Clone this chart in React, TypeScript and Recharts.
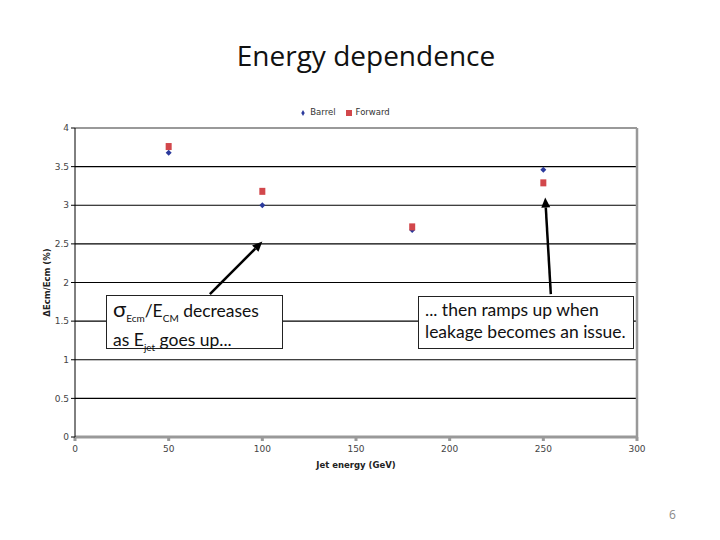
import React from "react"
import { ScatterChart, Scatter, XAxis, YAxis, CartesianGrid, Legend, ReferenceLine } from "recharts"

const barrelEnergy = [50, 100, 180, 250]
const barrelRes = [3.68, 3.0, 2.68, 3.46]
const forwardEnergy = [50, 100, 180, 250]
const forwardRes = [3.76, 3.18, 2.72, 3.29]
const xTicks = [0, 50, 100, 150, 200, 250, 300]
const yTicks = [0, 0.5, 1, 1.5, 2, 2.5, 3, 3.5, 4]

const barrel = barrelEnergy.map((x, i) => ({ x, y: barrelRes[i] }))
const forward = forwardEnergy.map((x, i) => ({ x, y: forwardRes[i] }))

const Diamond = (p: any) => (
  <polygon
    points={`${p.cx},${p.cy - 3} ${p.cx + 3},${p.cy} ${p.cx},${p.cy + 3} ${p.cx - 3},${p.cy}`}
    fill="#2b3a9c"
  />
)
const Square = (p: any) => <rect x={p.cx - 3} y={p.cy - 3.5} width={6} height={7} fill="#d2474b" />

const Arrow = (p: any) => {
  const { x1, y1, x2, y2 } = p
  const a = Math.atan2(y2 - y1, x2 - x1)
  const L = 10
  const w = 4.5
  const bx = x2 - L * Math.cos(a)
  const by = y2 - L * Math.sin(a)
  const px = -Math.sin(a) * w
  const py = Math.cos(a) * w
  return (
    <g>
      <line x1={x1} y1={y1} x2={bx} y2={by} stroke="#000" strokeWidth={2.5} />
      <polygon points={`${x2},${y2} ${bx + px},${by + py} ${bx - px},${by - py}`} fill="#000" />
    </g>
  )
}

const boxStyle: React.CSSProperties = {
  position: "absolute",
  border: "1px solid #222",
  background: "#fff",
  fontFamily: "Lato, 'Open Sans', sans-serif",
  fontSize: 17.5,
  lineHeight: "22px",
  color: "#111",
  padding: "2px 6px",
  boxSizing: "border-box",
}

export default function App() {
  return (
    <div style={{ position: "absolute", left: 0, top: 0, width: 720, height: 540, background: "#fff" }}>
      <div
        style={{
          position: "absolute",
          top: 36,
          width: 720,
          textAlign: "center",
          fontFamily: "'Open Sans', sans-serif",
          fontSize: 28,
          color: "#111",
          left: 6,
        }}
      >
        Energy dependence
      </div>
      <ScatterChart width={720} height={540} margin={{ top: 128, right: 83, bottom: 73, left: 35 }}>
        <CartesianGrid vertical={false} stroke="#000" strokeWidth={1.2} />
        <XAxis
          type="number"
          dataKey="x"
          domain={[0, 300]}
          ticks={xTicks}
          stroke="#999"
          strokeWidth={3}
          tickSize={4}
          tickMargin={5}
          tick={{ fontSize: 9, fill: "#444", fontFamily: "DejaVu Sans" }}
          height={30}
          label={{ value: "Jet energy (GeV)", position: "insideBottom", offset: -1, fontSize: 8.5, fontWeight: "bold", fill: "#222", fontFamily: "DejaVu Sans" }}
        />
        <YAxis
          type="number"
          dataKey="y"
          domain={[0, 4]}
          ticks={yTicks}
          stroke="#000"
          tickSize={4}
          width={40}
          tick={{ fontSize: 9, fill: "#444", fontFamily: "DejaVu Sans" }}
          label={{ value: "ΔEcm/Ecm (%)", angle: -90, position: "insideLeft", offset: 12, fontSize: 8.5, fontWeight: "bold", fill: "#222", fontFamily: "DejaVu Sans", style: { textAnchor: "middle" } }}
        />
        <ReferenceLine y={4} stroke="#999" strokeWidth={2} />
        <ReferenceLine x={300} stroke="#999" strokeWidth={2.5} />
        <Legend
          layout="horizontal"
          verticalAlign="middle"
          align="center"
          iconSize={6}
          wrapperStyle={{ top: 107, left: 0, width: 700, fontSize: 8.5, fontFamily: "DejaVu Sans", color: "#333" }}
          formatter={(v: string) => <span style={{ color: "#333" }}>{v}</span>}
        />
        <Scatter name="Barrel" data={barrel} fill="#2b3a9c" shape={Diamond} legendType="diamond" isAnimationActive={false} />
        <Scatter name="Forward" data={forward} fill="#d2474b" shape={Square} legendType="square" isAnimationActive={false} />
        <ReferenceLine segment={[{ x: 72, y: 1.85 }, { x: 100, y: 2.53 }]} shape={Arrow} />
        <ReferenceLine segment={[{ x: 254, y: 1.85 }, { x: 251, y: 3.1 }]} shape={Arrow} />
      </ScatterChart>
      <div style={{ ...boxStyle, left: 106, top: 295, width: 177, height: 54 }}>
        <span style={{ fontSize: 22 }}>σ</span>
        <sub style={{ fontSize: 10 }}>Ecm</sub>/E<sub style={{ fontSize: 10 }}>CM</sub> decreases
        <br />
        as E<sub style={{ fontSize: 10 }}>jet</sub> goes up...
      </div>
      <div style={{ ...boxStyle, left: 418, top: 296, width: 216, height: 53 }}>
        ... then ramps up when
        <br />
        leakage becomes an issue.
      </div>
      <div style={{ position: "absolute", left: 669, top: 506, fontFamily: "'Open Sans', sans-serif", fontSize: 12, color: "#888" }}>6</div>
    </div>
  )
}
